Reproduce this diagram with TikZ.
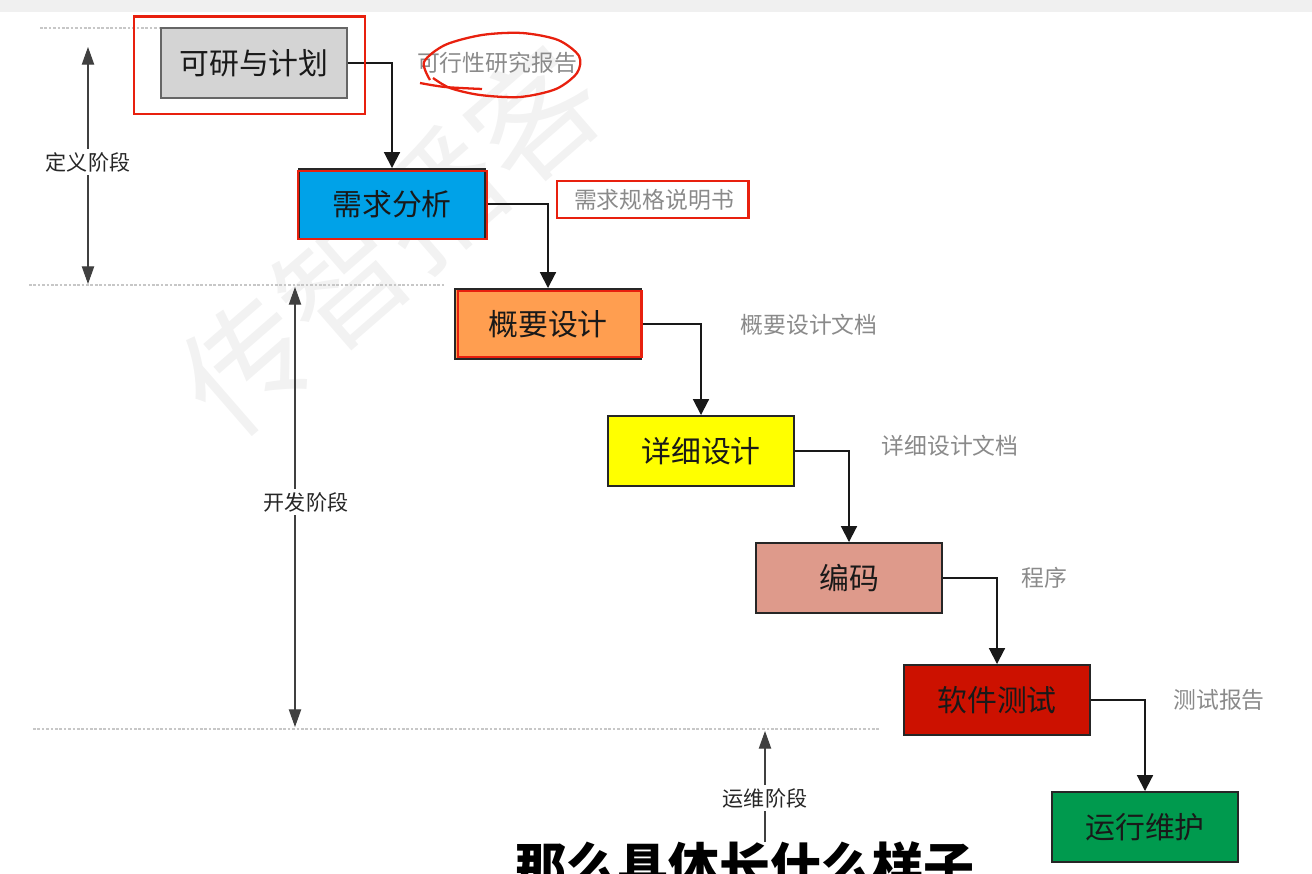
\documentclass[tikz,border=0pt]{standalone}
\usepackage{fontspec}
\setmainfont{Noto Sans CJK SC}
\usepackage{xcolor}
\definecolor{plangray}{HTML}{D4D4D4}
\definecolor{reqblue}{HTML}{00A2E8}
\definecolor{outorange}{HTML}{FF9E50}
\definecolor{detyellow}{HTML}{FFFF00}
\definecolor{codepink}{HTML}{DE9A8B}
\definecolor{testred}{HTML}{CC1100}
\definecolor{opsgreen}{HTML}{009A4E}
\definecolor{markred}{HTML}{E8200E}
\definecolor{docgray}{HTML}{8A8A8A}
\definecolor{topbar}{HTML}{F0F0F0}
\usepackage{tikz}
\usetikzlibrary{arrows.meta, positioning, calc}
\tikzset{
  ptip/.tip={Triangle[length=10pt, width=7pt]},
  stage/.style ={rectangle, draw=black!85, line width=1.1pt, text=black!90, align=center, inner sep=0pt,
                 minimum width=3.72cm, minimum height=1.4cm, font=\fontsize{17}{20}\selectfont},
  docl/.style  ={text=docgray, font=\fontsize{13}{15}\selectfont, inner sep=1pt},
  flowarr/.style ={-{Triangle[length=9pt, width=9pt]}, line width=1.1pt, color=black!90},
  phasearr/.style={ptip-ptip, line width=0.6pt, color=black!75},
  phasel/.style={font=\fontsize{12}{14}\selectfont, text=black!85, fill=white, inner sep=2pt},
  phaseline/.style={draw=black!22, line width=1pt, dash pattern=on 1.5pt off 1pt},
  redmark/.style={draw=markred, line width=1.7pt},
  subt/.style={font=\fontsize{29}{32}\selectfont\bfseries, inner sep=0pt},
  wmark/.style={font=\fontsize{72}{80}\selectfont, text=black!5, rotate=41, inner sep=0pt},
}

\begin{document}
\begin{tikzpicture}[x=0.02cm, y=-0.02cm]
  \useasboundingbox (0,0) rectangle (1312,874);
  \clip (0,0) rectangle (1312,874);
  \fill[topbar] (0,0) rectangle (1312,12);
  % watermark
  \node[wmark] (wm) at (390,240) {传智播客};
  % phase lines
  \draw[phaseline] (40,28) -- (160,28);
  \draw[phaseline] (29,285) -- (444,285);
  \draw[phaseline] (33,729) -- (880,729);
  % stages
  \node[stage, fill=plangray, draw=black!60, line width=0.8pt] (plan) at (254,63)  {可研与计划};
  \node[stage, fill=reqblue]    (req)  at (392,204) {需求分析};
  \node[stage, fill=outorange]  (out)  at (548,324) {概要设计};
  \node[stage, fill=detyellow]  (det)  at (701,451) {详细设计};
  \node[stage, fill=codepink]   (code) at (849,578) {编码};
  \node[stage, fill=testred]    (test) at (997,700) {软件测试};
  \node[stage, fill=opsgreen]   (ops)  at (1145,827) {运行维护};
  % documents
  \node[docl] (dplan) at (497,63)  {可行性研究报告};
  \node[docl] (dreq)  at (654,200) {需求规格说明书};
  \node[docl] (dout)  at (809,325) {概要设计文档};
  \node[docl] (ddet)  at (950,446) {详细设计文档};
  \node[docl] (dcode) at (1044,578) {程序};
  \node[docl] (dtest) at (1219,700) {测试报告};
  % flow
  \draw[flowarr] (plan.east) -| (req.north);
  \draw[flowarr] (req.east)  -| (out.north);
  \draw[flowarr] (out.east)  -| (det.north);
  \draw[flowarr] (det.east)  -| (code.north);
  \draw[flowarr] (code.east) -| (test.north);
  \draw[flowarr] (test.east) -| (ops.north);
  % phases
  \coordinate (def1) at (88,47);
  \coordinate (def2) at (88,284);
  \coordinate (dev1) at (295,287);
  \coordinate (dev2) at (295,727);
  \coordinate (op1)  at (765,842);
  \coordinate (op2)  at (765,731);
  \draw[phasearr] (def1) -- (def2);
  \draw[phasearr] (dev1) -- (dev2);
  \draw[phasearr, -ptip] (op1) -- (op2);
  \node[phasel] (ldef) at (88,162)  {定义阶段};
  \node[phasel] (ldev) at (306,502) {开发阶段};
  \node[phasel] (lop)  at (765,798) {运维阶段};
  % red marks
  \draw[redmark] (134,17) rectangle (365,114);
  \draw[redmark] (298,171) rectangle (487,239);
  \draw[redmark] (458,291) rectangle (641,357);
  \draw[redmark] (557,181) rectangle (748,218);
  \draw[markred, line width=1.3pt] plot[smooth] coordinates {(430,80) (424,62) (445,45) (482,35) (522,33) (558,40) (579,56) (577,73) (556,89) (520,97) (480,95) (450,88) (433,78)};
  \draw[markred, line width=1.3pt] plot[smooth] coordinates {(420,83) (445,87) (482,89)};
  % subtitle
  \node[subt, text=black] (sub) at (745,866) {那么具体长什么样子};
\end{tikzpicture}
\end{document}
